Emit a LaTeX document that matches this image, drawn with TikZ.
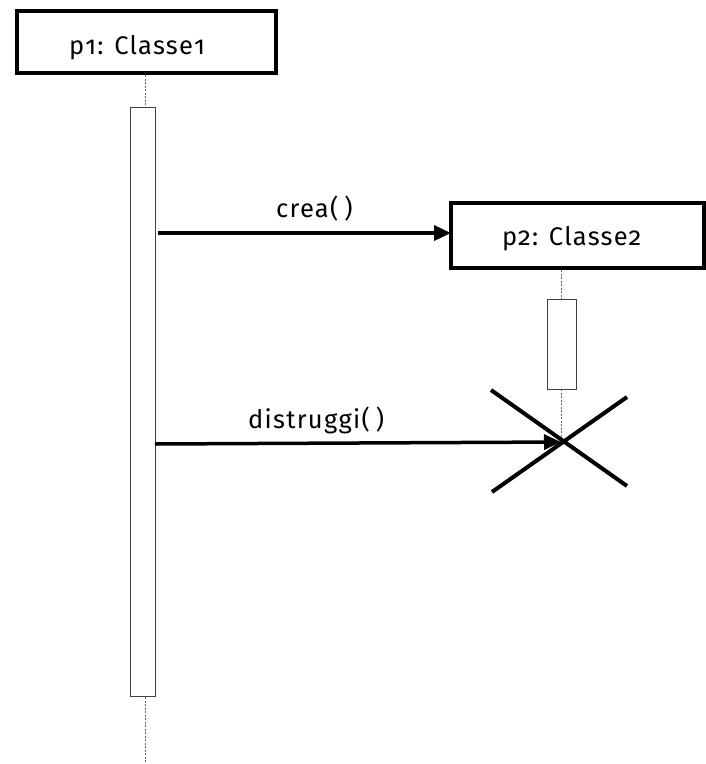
\documentclass[tikz,border=0pt]{standalone}
\usepackage{fontspec}
\setmainfont[Numbers=OldStyle,LetterSpace=5]{Fira Sans}
\usetikzlibrary{arrows.meta}
\newcommand{\pgap}{\rule{6pt}{0pt}}
\begin{document}
\begin{tikzpicture}[x=1pt,y=-1pt,
  objbox/.style={draw=black,line width=4pt,fill=white},
  actbar/.style={draw=black!75,line width=1pt,fill=white},
  lifeline/.style={draw=black!60,line width=0.8pt,dash pattern=on 2pt off 1.5pt},
  msg/.style={line width=3.5pt,-{Triangle[length=17pt,width=15pt]}},
  lbl/.style={font=\fontsize{25.5}{30}\selectfont,inner sep=0pt,anchor=base west},
  xline/.style={line width=4pt}]
\useasboundingbox (0,0) rectangle (706,764);
% objects
\draw[objbox] (17,11) rectangle (276,73);
\node[lbl] (o1) at (69,54) {p1: Classe1};
\draw[objbox] (451,203) rectangle (704,268);
\node[lbl] (o2) at (502,245) {p2: Classe2};
% lifelines
\coordinate (l1a) at (145,75);
\coordinate (l1b) at (145,107);
\coordinate (l1c) at (145,697);
\coordinate (l1d) at (145,764);
\draw[lifeline] (l1a) -- (l1b);
\draw[lifeline] (l1c) -- (l1d);
\coordinate (l2a) at (561,270);
\coordinate (l2b) at (561,299);
\coordinate (l2c) at (561,389);
\coordinate (xc) at (561,442);
\draw[lifeline] (l2a) -- (l2b);
\draw[lifeline] (l2c) -- (xc);
% activation bars
\draw[actbar] (130,107) rectangle (155,696);
\draw[actbar] (547,299) rectangle (576,389);
% destruction cross
\draw[xline] (491,390) -- (627,486);
\draw[xline] (627,397) -- (492,492);
% messages
\coordinate (m1s) at (158,233);
\coordinate (m1e) at (451,233);
\draw[msg] (m1s) -- (m1e);
\node[lbl] (l1) at (276,217) {crea(\pgap)};
\coordinate (m2s) at (155,444);
\draw[msg] (m2s) -- (xc);
\node[lbl] (l2) at (248,428) {distruggi(\pgap)};
\end{tikzpicture}
\end{document}
